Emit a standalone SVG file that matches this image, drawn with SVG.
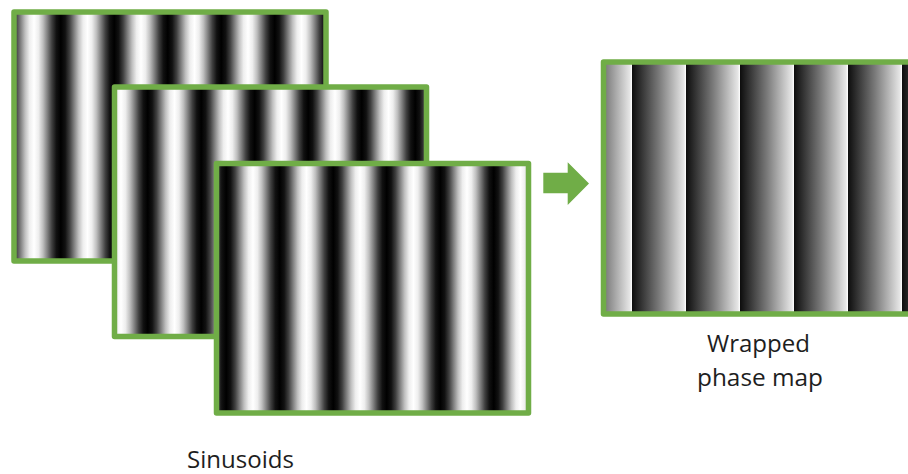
<svg xmlns="http://www.w3.org/2000/svg" width="908" height="474" viewBox="0 0 908 474">
  <style>
    .frame { stroke: #70ad47; stroke-width: 5.5; stroke-linejoin: round; }
    .label { font-family: "Open Sans", "Liberation Sans", sans-serif; font-size: 23px; fill: #1e1e1e; text-anchor: middle; }
    .arrow { fill: #70ad47; }
  </style>
  <defs>
    <linearGradient id="sinA" gradientUnits="userSpaceOnUse" x1="0" y1="0" x2="53.5" y2="0" spreadMethod="repeat">
      <stop offset="0" stop-color="#ffffff"/>
      <stop offset="0.0833" stop-color="#eeeeee"/>
      <stop offset="0.1667" stop-color="#bfbfbf"/>
      <stop offset="0.25" stop-color="#808080"/>
      <stop offset="0.3333" stop-color="#404040"/>
      <stop offset="0.4167" stop-color="#111111"/>
      <stop offset="0.5" stop-color="#000000"/>
      <stop offset="0.5833" stop-color="#111111"/>
      <stop offset="0.6667" stop-color="#404040"/>
      <stop offset="0.75" stop-color="#808080"/>
      <stop offset="0.8333" stop-color="#bfbfbf"/>
      <stop offset="0.9167" stop-color="#eeeeee"/>
      <stop offset="1" stop-color="#ffffff"/>
    </linearGradient>
    <linearGradient id="sin1" href="#sinA" gradientTransform="translate(34 0)"/>
    <linearGradient id="sin2" href="#sinA" gradientTransform="translate(121 0)"/>
    <linearGradient id="sin3" href="#sinA" gradientTransform="translate(253 0)"/>
    <linearGradient id="wrap" gradientUnits="userSpaceOnUse" x1="632" y1="0" x2="686" y2="0" spreadMethod="repeat">
      <stop offset="0" stop-color="#0d0d0d"/>
      <stop offset="0.5" stop-color="#7a7a7a"/>
      <stop offset="0.96" stop-color="#e6e6e6"/>
      <stop offset="1" stop-color="#ffffff"/>
    </linearGradient>
  </defs>

  <g id="sinusoid1">
    <rect class="frame" x="14" y="12" width="312" height="249" fill="url(#sin1)"/>
  </g>
  <g id="sinusoid2">
    <rect class="frame" x="114.5" y="87" width="312" height="249.5" fill="url(#sin2)"/>
  </g>
  <g id="sinusoid3">
    <rect class="frame" x="216.5" y="163.5" width="312" height="249.5" fill="url(#sin3)"/>
  </g>
  <g id="sinusoids-label">
    <text class="label" x="240.5" y="468" textLength="107" lengthAdjust="spacingAndGlyphs">Sinusoids</text>
  </g>

  <g id="wrapped-phase-map">
    <rect class="frame" x="603.5" y="62" width="320" height="252" fill="url(#wrap)"/>
    <text class="label" x="758.5" y="352" textLength="103" lengthAdjust="spacingAndGlyphs">Wrapped</text>
    <text class="label" x="760" y="386" textLength="126" lengthAdjust="spacingAndGlyphs">phase map</text>
  </g>

  <g id="connectors">
    <polygon class="arrow" points="543.3,172.7 567.7,172.7 567.7,162.3 589,183.5 567.7,205 567.7,193.3 543.3,193.3"/>
  </g>
</svg>
